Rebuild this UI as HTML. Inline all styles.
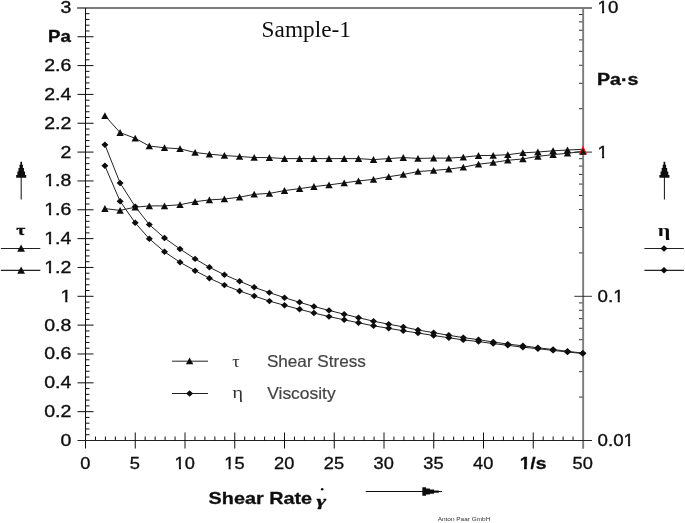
<!DOCTYPE html><html><head><meta charset="utf-8"><title>Sample-1</title>
<style>html,body{margin:0;padding:0;background:#fff}svg{display:block}.a{font-family:"Liberation Sans",Arial,sans-serif;fill:#111}.s{font-family:"Liberation Serif","Times New Roman",serif;fill:#111}</style></head><body>
<svg width="685" height="523" viewBox="0 0 685 523">
<defs><filter id="soft" x="0" y="0" width="685" height="523" filterUnits="userSpaceOnUse"><feGaussianBlur stdDeviation="0.3"/></filter></defs>
<rect width="685" height="523" fill="#fff"/>
<g filter="url(#soft)">
<path d="M77.1 7.95H592.0" stroke="#7c7c7c" stroke-width="1.9" fill="none"/>
<path d="M583.15 7.5V448.7" stroke="#7c7c7c" stroke-width="1.9" fill="none"/>
<path d="M85.5 7.9V448.5" stroke="#111" stroke-width="1" fill="none"/>
<path d="M77.5 440.5H592.0" stroke="#222" stroke-width="1" fill="none"/>
<path d="M85.5 434.73H89.5M85.5 428.96H89.5M85.5 423.20H89.5M85.5 417.43H89.5M77.5 411.66H93.5M85.5 405.89H89.5M85.5 400.12H89.5M85.5 394.36H89.5M85.5 388.59H89.5M77.5 382.82H93.5M85.5 377.05H89.5M85.5 371.28H89.5M85.5 365.52H89.5M85.5 359.75H89.5M77.5 353.98H93.5M85.5 348.21H89.5M85.5 342.44H89.5M85.5 336.68H89.5M85.5 330.91H89.5M77.5 325.14H93.5M85.5 319.37H89.5M85.5 313.60H89.5M85.5 307.84H89.5M85.5 302.07H89.5M77.5 296.30H93.5M85.5 290.53H89.5M85.5 284.76H89.5M85.5 279.00H89.5M85.5 273.23H89.5M77.5 267.46H93.5M85.5 261.69H89.5M85.5 255.92H89.5M85.5 250.16H89.5M85.5 244.39H89.5M77.5 238.62H93.5M85.5 232.85H89.5M85.5 227.08H89.5M85.5 221.32H89.5M85.5 215.55H89.5M77.5 209.78H93.5M85.5 204.01H89.5M85.5 198.24H89.5M85.5 192.48H89.5M85.5 186.71H89.5M77.5 180.94H93.5M85.5 175.17H89.5M85.5 169.40H89.5M85.5 163.64H89.5M85.5 157.87H89.5M77.5 152.10H93.5M85.5 146.33H89.5M85.5 140.56H89.5M85.5 134.80H89.5M85.5 129.03H89.5M77.5 123.26H93.5M85.5 117.49H89.5M85.5 111.72H89.5M85.5 105.96H89.5M85.5 100.19H89.5M77.5 94.42H93.5M85.5 88.65H89.5M85.5 82.88H89.5M85.5 77.12H89.5M85.5 71.35H89.5M77.5 65.58H93.5M85.5 59.81H89.5M85.5 54.04H89.5M85.5 48.28H89.5M85.5 42.51H89.5M77.5 36.74H93.5M85.5 30.97H89.5M85.5 25.20H89.5M85.5 19.44H89.5M85.5 13.67H89.5" stroke="#111" stroke-width="1" fill="none"/>
<path d="M95.45 436.5V440.5M105.40 436.5V440.5M115.35 436.5V440.5M125.30 436.5V440.5M135.25 432.5V448.5M145.20 436.5V440.5M155.15 436.5V440.5M165.10 436.5V440.5M175.05 436.5V440.5M185.00 432.5V448.5M194.95 436.5V440.5M204.90 436.5V440.5M214.85 436.5V440.5M224.80 436.5V440.5M234.75 432.5V448.5M244.70 436.5V440.5M254.65 436.5V440.5M264.60 436.5V440.5M274.55 436.5V440.5M284.50 432.5V448.5M294.45 436.5V440.5M304.40 436.5V440.5M314.35 436.5V440.5M324.30 436.5V440.5M334.25 432.5V448.5M344.20 436.5V440.5M354.15 436.5V440.5M364.10 436.5V440.5M374.05 436.5V440.5M384.00 432.5V448.5M393.95 436.5V440.5M403.90 436.5V440.5M413.85 436.5V440.5M423.80 436.5V440.5M433.75 432.5V448.5M443.70 436.5V440.5M453.65 436.5V440.5M463.60 436.5V440.5M473.55 436.5V440.5M483.50 432.5V448.5M493.45 436.5V440.5M503.40 436.5V440.5M513.35 436.5V440.5M523.30 436.5V440.5M533.25 432.5V448.5M543.20 436.5V440.5M553.15 436.5V440.5M563.10 436.5V440.5M573.05 436.5V440.5" stroke="#111" stroke-width="1" fill="none"/>
<path d="M574.3 152.10H592.0M579.0 108.69H582.5M579.0 83.30H582.5M579.0 65.28H582.5M579.0 51.31H582.5M579.0 39.89H582.5M579.0 30.24H582.5M579.0 21.87H582.5M579.0 14.50H582.5M574.3 296.30H592.0M579.0 252.89H582.5M579.0 227.50H582.5M579.0 209.48H582.5M579.0 195.51H582.5M579.0 184.09H582.5M579.0 174.44H582.5M579.0 166.07H582.5M579.0 158.70H582.5M579.0 397.09H582.5M579.0 371.70H582.5M579.0 353.68H582.5M579.0 339.71H582.5M579.0 328.29H582.5M579.0 318.64H582.5M579.0 310.27H582.5M579.0 302.90H582.5" stroke="#333" stroke-width="1" fill="none"/>
<g transform="translate(71.4 0) scale(1.22 1)"><text class="a" x="-8.90" y="446.0" font-size="16" stroke="#111" stroke-width="0.35">0</text></g>
<g transform="translate(71.4 0) scale(1.22 1)"><text class="a" x="-22.24" y="417.2" font-size="16" stroke="#111" stroke-width="0.35">0.2</text></g>
<g transform="translate(71.4 0) scale(1.22 1)"><text class="a" x="-22.24" y="388.3" font-size="16" stroke="#111" stroke-width="0.35">0.4</text></g>
<g transform="translate(71.4 0) scale(1.22 1)"><text class="a" x="-22.24" y="359.5" font-size="16" stroke="#111" stroke-width="0.35">0.6</text></g>
<g transform="translate(71.4 0) scale(1.22 1)"><text class="a" x="-22.24" y="330.6" font-size="16" stroke="#111" stroke-width="0.35">0.8</text></g>
<g transform="translate(71.4 0) scale(1.22 1)"><text class="a" x="-8.90" y="301.8" font-size="16" stroke="#111" stroke-width="0.35">1</text><rect x="-8.50" y="299.32" width="3.41" height="4.48" fill="#fff"/><rect x="-3.26" y="299.32" width="3.25" height="4.48" fill="#fff"/></g>
<g transform="translate(71.4 0) scale(1.22 1)"><text class="a" x="-22.24" y="273.0" font-size="16" stroke="#111" stroke-width="0.35">1.2</text><rect x="-21.84" y="270.48" width="3.41" height="4.48" fill="#fff"/><rect x="-16.61" y="270.48" width="3.25" height="4.48" fill="#fff"/></g>
<g transform="translate(71.4 0) scale(1.22 1)"><text class="a" x="-22.24" y="244.1" font-size="16" stroke="#111" stroke-width="0.35">1.4</text><rect x="-21.84" y="241.64" width="3.41" height="4.48" fill="#fff"/><rect x="-16.61" y="241.64" width="3.25" height="4.48" fill="#fff"/></g>
<g transform="translate(71.4 0) scale(1.22 1)"><text class="a" x="-22.24" y="215.3" font-size="16" stroke="#111" stroke-width="0.35">1.6</text><rect x="-21.84" y="212.80" width="3.41" height="4.48" fill="#fff"/><rect x="-16.61" y="212.80" width="3.25" height="4.48" fill="#fff"/></g>
<g transform="translate(71.4 0) scale(1.22 1)"><text class="a" x="-22.24" y="186.4" font-size="16" stroke="#111" stroke-width="0.35">1.8</text><rect x="-21.84" y="183.96" width="3.41" height="4.48" fill="#fff"/><rect x="-16.61" y="183.96" width="3.25" height="4.48" fill="#fff"/></g>
<g transform="translate(71.4 0) scale(1.22 1)"><text class="a" x="-8.90" y="157.6" font-size="16" stroke="#111" stroke-width="0.35">2</text></g>
<g transform="translate(71.4 0) scale(1.22 1)"><text class="a" x="-22.24" y="128.8" font-size="16" stroke="#111" stroke-width="0.35">2.2</text></g>
<g transform="translate(71.4 0) scale(1.22 1)"><text class="a" x="-22.24" y="99.9" font-size="16" stroke="#111" stroke-width="0.35">2.4</text></g>
<g transform="translate(71.4 0) scale(1.22 1)"><text class="a" x="-22.24" y="71.1" font-size="16" stroke="#111" stroke-width="0.35">2.6</text></g>
<g transform="translate(70.8 0) scale(1.17 1)"><text class="a" x="-19.57" y="41.7" font-size="16" font-weight="bold" stroke="#111" stroke-width="0.35">Pa</text></g>
<g transform="translate(71.4 0) scale(1.22 1)"><text class="a" x="-8.90" y="13.4" font-size="16" stroke="#111" stroke-width="0.35">3</text></g>
<g transform="translate(85.2 0) scale(1.14 1)"><text class="a" x="-4.45" y="468.6" font-size="16" stroke="#111" stroke-width="0.35">0</text></g>
<g transform="translate(134.9 0) scale(1.14 1)"><text class="a" x="-4.45" y="468.6" font-size="16" stroke="#111" stroke-width="0.35">5</text></g>
<g transform="translate(184.7 0) scale(1.14 1)"><text class="a" x="-8.90" y="468.6" font-size="16" stroke="#111" stroke-width="0.35">10</text><rect x="-8.50" y="466.12" width="3.41" height="4.48" fill="#fff"/><rect x="-3.26" y="466.12" width="3.25" height="4.48" fill="#fff"/></g>
<g transform="translate(234.4 0) scale(1.14 1)"><text class="a" x="-8.90" y="468.6" font-size="16" stroke="#111" stroke-width="0.35">15</text><rect x="-8.50" y="466.12" width="3.41" height="4.48" fill="#fff"/><rect x="-3.26" y="466.12" width="3.25" height="4.48" fill="#fff"/></g>
<g transform="translate(284.2 0) scale(1.14 1)"><text class="a" x="-8.90" y="468.6" font-size="16" stroke="#111" stroke-width="0.35">20</text></g>
<g transform="translate(333.9 0) scale(1.14 1)"><text class="a" x="-8.90" y="468.6" font-size="16" stroke="#111" stroke-width="0.35">25</text></g>
<g transform="translate(383.7 0) scale(1.14 1)"><text class="a" x="-8.90" y="468.6" font-size="16" stroke="#111" stroke-width="0.35">30</text></g>
<g transform="translate(433.4 0) scale(1.14 1)"><text class="a" x="-8.90" y="468.6" font-size="16" stroke="#111" stroke-width="0.35">35</text></g>
<g transform="translate(483.2 0) scale(1.14 1)"><text class="a" x="-8.90" y="468.6" font-size="16" stroke="#111" stroke-width="0.35">40</text></g>
<g transform="translate(533.0 0) scale(1.2 1)"><text class="a" x="-11.12" y="468.6" font-size="16" font-weight="bold" stroke="#111" stroke-width="0.35">1/s</text><rect x="-10.80" y="465.72" width="3.30" height="4.88" fill="#fff"/><rect x="-5.14" y="465.72" width="3.14" height="4.88" fill="#fff"/></g>
<g transform="translate(582.7 0) scale(1.14 1)"><text class="a" x="-8.90" y="468.6" font-size="16" stroke="#111" stroke-width="0.35">50</text></g>
<g transform="translate(597.6 0) scale(1.17 1)"><text class="a" x="0.00" y="13.4" font-size="16" stroke="#111" stroke-width="0.35">10</text><rect x="0.40" y="10.92" width="3.41" height="4.48" fill="#fff"/><rect x="5.63" y="10.92" width="3.25" height="4.48" fill="#fff"/></g>
<g transform="translate(597.6 0) scale(1.17 1)"><text class="a" x="0.00" y="157.6" font-size="16" stroke="#111" stroke-width="0.35">1</text><rect x="0.40" y="155.12" width="3.41" height="4.48" fill="#fff"/><rect x="5.63" y="155.12" width="3.25" height="4.48" fill="#fff"/></g>
<g transform="translate(597.6 0) scale(1.17 1)"><text class="a" x="0.00" y="301.8" font-size="16" stroke="#111" stroke-width="0.35">0.1</text><rect x="13.74" y="299.32" width="3.41" height="4.48" fill="#fff"/><rect x="18.98" y="299.32" width="3.25" height="4.48" fill="#fff"/></g>
<g transform="translate(597.6 0) scale(1.17 1)"><text class="a" x="0.00" y="446.0" font-size="16" stroke="#111" stroke-width="0.35">0.01</text><rect x="22.64" y="443.52" width="3.41" height="4.48" fill="#fff"/><rect x="27.87" y="443.52" width="3.25" height="4.48" fill="#fff"/></g>
<text class="a" x="597" y="84.8" font-size="15.6" stroke="#111" stroke-width="0.35" font-weight="bold" textLength="41.3" lengthAdjust="spacingAndGlyphs">Pa·s</text>
<text class="s" x="261.6" y="36.8" font-size="23" textLength="89.3" lengthAdjust="spacingAndGlyphs">Sample-1</text>
<polyline fill="none" stroke="#222" stroke-width="1" points="104.9,115.7 120.1,132.6 135.2,138.3 149.3,146.0 164.5,147.8 180.0,148.8 195.1,152.5 209.4,154.2 224.4,155.5 239.6,156.5 254.2,157.5 269.4,157.6 284.5,158.6 299.6,158.6 313.9,158.6 329.0,158.6 344.2,158.6 358.5,158.6 373.5,159.6 388.7,158.6 403.3,157.6 418.0,158.4 433.6,158.1 448.8,158.1 463.3,157.2 478.5,155.6 493.2,155.4 507.8,154.7 522.9,152.8 537.9,152.0 553.1,150.8 567.5,150.0 582.8,149.3"/>
<polyline fill="none" stroke="#222" stroke-width="1" points="104.9,208.6 120.1,210.4 135.2,207.2 149.3,205.9 164.5,205.9 180.0,204.7 195.1,201.7 209.4,199.9 224.4,199.0 239.6,197.2 254.2,194.3 269.4,193.4 284.5,190.6 299.6,188.6 313.9,186.6 329.0,184.9 344.2,182.9 358.5,180.9 373.5,179.4 388.7,176.7 403.3,174.5 418.0,171.5 433.6,170.5 448.8,169.1 463.3,167.2 478.5,164.2 493.2,162.5 507.8,160.3 522.9,158.9 537.9,156.4 553.1,154.6 567.5,153.3 582.8,151.4"/>
<polyline fill="none" stroke="#222" stroke-width="1" points="104.9,144.7 120.1,183.0 135.2,206.6 149.3,224.6 164.5,238.0 180.0,249.0 195.1,258.9 209.4,267.3 224.4,274.7 239.6,281.3 254.2,287.3 269.4,292.6 284.5,297.7 299.6,302.3 313.9,306.5 329.0,310.4 344.2,314.2 358.5,317.7 373.5,321.2 388.7,324.2 403.3,326.9 418.0,330.0 433.6,332.7 448.8,335.3 463.3,337.6 478.5,339.7 493.2,342.0 507.8,344.1 522.9,345.8 537.9,347.8 553.1,349.5 567.5,351.3 582.8,353.1"/>
<polyline fill="none" stroke="#222" stroke-width="1" points="104.9,165.8 120.1,201.3 135.2,222.8 149.3,238.8 164.5,251.8 180.0,262.3 195.1,270.7 209.4,278.2 224.4,285.1 239.6,291.0 254.2,296.0 269.4,301.1 284.5,305.3 299.6,309.3 313.9,313.0 329.0,316.6 344.2,319.8 358.5,322.8 373.5,325.8 388.7,328.3 403.3,330.8 418.0,333.0 433.6,335.5 448.8,337.8 463.3,339.9 478.5,341.6 493.2,343.6 507.8,345.3 522.9,347.2 537.9,348.7 553.1,350.4 567.5,352.0 582.8,353.5"/>
<path d="M101.2 211.9L108.6 211.9L104.9 205.1Z" fill="#111"/>
<path d="M116.4 213.7L123.8 213.7L120.1 206.9Z" fill="#111"/>
<path d="M131.5 210.5L138.9 210.5L135.2 203.7Z" fill="#111"/>
<path d="M145.6 209.2L153.0 209.2L149.3 202.4Z" fill="#111"/>
<path d="M160.8 209.2L168.2 209.2L164.5 202.4Z" fill="#111"/>
<path d="M176.3 208.0L183.7 208.0L180.0 201.2Z" fill="#111"/>
<path d="M191.4 205.0L198.8 205.0L195.1 198.2Z" fill="#111"/>
<path d="M205.7 203.2L213.1 203.2L209.4 196.4Z" fill="#111"/>
<path d="M220.7 202.3L228.1 202.3L224.4 195.5Z" fill="#111"/>
<path d="M235.9 200.5L243.3 200.5L239.6 193.7Z" fill="#111"/>
<path d="M250.5 197.6L257.9 197.6L254.2 190.8Z" fill="#111"/>
<path d="M265.7 196.7L273.1 196.7L269.4 189.9Z" fill="#111"/>
<path d="M280.8 193.9L288.2 193.9L284.5 187.1Z" fill="#111"/>
<path d="M295.9 191.9L303.3 191.9L299.6 185.1Z" fill="#111"/>
<path d="M310.2 189.9L317.6 189.9L313.9 183.1Z" fill="#111"/>
<path d="M325.3 188.2L332.7 188.2L329.0 181.4Z" fill="#111"/>
<path d="M340.5 186.2L347.9 186.2L344.2 179.4Z" fill="#111"/>
<path d="M354.8 184.2L362.2 184.2L358.5 177.4Z" fill="#111"/>
<path d="M369.8 182.7L377.2 182.7L373.5 175.9Z" fill="#111"/>
<path d="M385.0 180.0L392.4 180.0L388.7 173.2Z" fill="#111"/>
<path d="M399.6 177.8L407.0 177.8L403.3 171.0Z" fill="#111"/>
<path d="M414.3 174.8L421.7 174.8L418.0 168.0Z" fill="#111"/>
<path d="M429.9 173.8L437.3 173.8L433.6 167.0Z" fill="#111"/>
<path d="M445.1 172.4L452.5 172.4L448.8 165.6Z" fill="#111"/>
<path d="M459.6 170.5L467.0 170.5L463.3 163.7Z" fill="#111"/>
<path d="M474.8 167.5L482.2 167.5L478.5 160.7Z" fill="#111"/>
<path d="M489.5 165.8L496.9 165.8L493.2 159.0Z" fill="#111"/>
<path d="M504.1 163.6L511.5 163.6L507.8 156.8Z" fill="#111"/>
<path d="M519.2 162.2L526.6 162.2L522.9 155.4Z" fill="#111"/>
<path d="M534.2 159.7L541.6 159.7L537.9 152.9Z" fill="#111"/>
<path d="M549.4 157.9L556.8 157.9L553.1 151.1Z" fill="#111"/>
<path d="M563.8 156.6L571.2 156.6L567.5 149.8Z" fill="#111"/>
<path d="M101.2 119.0L108.6 119.0L104.9 112.2Z" fill="#111"/>
<path d="M116.4 135.9L123.8 135.9L120.1 129.1Z" fill="#111"/>
<path d="M131.5 141.6L138.9 141.6L135.2 134.8Z" fill="#111"/>
<path d="M145.6 149.3L153.0 149.3L149.3 142.5Z" fill="#111"/>
<path d="M160.8 151.1L168.2 151.1L164.5 144.3Z" fill="#111"/>
<path d="M176.3 152.1L183.7 152.1L180.0 145.3Z" fill="#111"/>
<path d="M191.4 155.8L198.8 155.8L195.1 149.0Z" fill="#111"/>
<path d="M205.7 157.5L213.1 157.5L209.4 150.7Z" fill="#111"/>
<path d="M220.7 158.8L228.1 158.8L224.4 152.0Z" fill="#111"/>
<path d="M235.9 159.8L243.3 159.8L239.6 153.0Z" fill="#111"/>
<path d="M250.5 160.8L257.9 160.8L254.2 154.0Z" fill="#111"/>
<path d="M265.7 160.9L273.1 160.9L269.4 154.1Z" fill="#111"/>
<path d="M280.8 161.9L288.2 161.9L284.5 155.1Z" fill="#111"/>
<path d="M295.9 161.9L303.3 161.9L299.6 155.1Z" fill="#111"/>
<path d="M310.2 161.9L317.6 161.9L313.9 155.1Z" fill="#111"/>
<path d="M325.3 161.9L332.7 161.9L329.0 155.1Z" fill="#111"/>
<path d="M340.5 161.9L347.9 161.9L344.2 155.1Z" fill="#111"/>
<path d="M354.8 161.9L362.2 161.9L358.5 155.1Z" fill="#111"/>
<path d="M369.8 162.9L377.2 162.9L373.5 156.1Z" fill="#111"/>
<path d="M385.0 161.9L392.4 161.9L388.7 155.1Z" fill="#111"/>
<path d="M399.6 160.9L407.0 160.9L403.3 154.1Z" fill="#111"/>
<path d="M414.3 161.7L421.7 161.7L418.0 154.9Z" fill="#111"/>
<path d="M429.9 161.4L437.3 161.4L433.6 154.6Z" fill="#111"/>
<path d="M445.1 161.4L452.5 161.4L448.8 154.6Z" fill="#111"/>
<path d="M459.6 160.5L467.0 160.5L463.3 153.7Z" fill="#111"/>
<path d="M474.8 158.9L482.2 158.9L478.5 152.1Z" fill="#111"/>
<path d="M489.5 158.7L496.9 158.7L493.2 151.9Z" fill="#111"/>
<path d="M504.1 158.0L511.5 158.0L507.8 151.2Z" fill="#111"/>
<path d="M519.2 156.1L526.6 156.1L522.9 149.3Z" fill="#111"/>
<path d="M534.2 155.3L541.6 155.3L537.9 148.5Z" fill="#111"/>
<path d="M549.4 154.1L556.8 154.1L553.1 147.3Z" fill="#111"/>
<path d="M563.8 153.3L571.2 153.3L567.5 146.5Z" fill="#111"/>
<path d="M578.8 154.6L587.2 154.6L583.0 145.6Z" fill="#ee1111"/>
<path d="M579.7 154.8L586.3 154.8L583.0 148.4Z" fill="#151515"/>
<path d="M101.4 144.7L104.9 141.5L108.4 144.7L104.9 147.9Z" fill="#111"/>
<path d="M116.6 183.0L120.1 179.8L123.6 183.0L120.1 186.2Z" fill="#111"/>
<path d="M131.7 206.6L135.2 203.4L138.7 206.6L135.2 209.8Z" fill="#111"/>
<path d="M145.8 224.6L149.3 221.4L152.8 224.6L149.3 227.8Z" fill="#111"/>
<path d="M161.0 238.0L164.5 234.8L168.0 238.0L164.5 241.2Z" fill="#111"/>
<path d="M176.5 249.0L180.0 245.8L183.5 249.0L180.0 252.2Z" fill="#111"/>
<path d="M191.6 258.9L195.1 255.7L198.6 258.9L195.1 262.1Z" fill="#111"/>
<path d="M205.9 267.3L209.4 264.1L212.9 267.3L209.4 270.5Z" fill="#111"/>
<path d="M220.9 274.7L224.4 271.5L227.9 274.7L224.4 277.9Z" fill="#111"/>
<path d="M236.1 281.3L239.6 278.1L243.1 281.3L239.6 284.5Z" fill="#111"/>
<path d="M250.7 287.3L254.2 284.1L257.7 287.3L254.2 290.5Z" fill="#111"/>
<path d="M265.9 292.6L269.4 289.4L272.9 292.6L269.4 295.8Z" fill="#111"/>
<path d="M281.0 297.7L284.5 294.5L288.0 297.7L284.5 300.9Z" fill="#111"/>
<path d="M296.1 302.3L299.6 299.1L303.1 302.3L299.6 305.5Z" fill="#111"/>
<path d="M310.4 306.5L313.9 303.3L317.4 306.5L313.9 309.7Z" fill="#111"/>
<path d="M325.5 310.4L329.0 307.2L332.5 310.4L329.0 313.6Z" fill="#111"/>
<path d="M340.7 314.2L344.2 311.0L347.7 314.2L344.2 317.4Z" fill="#111"/>
<path d="M355.0 317.7L358.5 314.5L362.0 317.7L358.5 320.9Z" fill="#111"/>
<path d="M370.0 321.2L373.5 318.0L377.0 321.2L373.5 324.4Z" fill="#111"/>
<path d="M385.2 324.2L388.7 321.0L392.2 324.2L388.7 327.4Z" fill="#111"/>
<path d="M399.8 326.9L403.3 323.7L406.8 326.9L403.3 330.1Z" fill="#111"/>
<path d="M414.5 330.0L418.0 326.8L421.5 330.0L418.0 333.2Z" fill="#111"/>
<path d="M430.1 332.7L433.6 329.5L437.1 332.7L433.6 335.9Z" fill="#111"/>
<path d="M445.3 335.3L448.8 332.1L452.3 335.3L448.8 338.5Z" fill="#111"/>
<path d="M459.8 337.6L463.3 334.4L466.8 337.6L463.3 340.8Z" fill="#111"/>
<path d="M475.0 339.7L478.5 336.5L482.0 339.7L478.5 342.9Z" fill="#111"/>
<path d="M489.7 342.0L493.2 338.8L496.7 342.0L493.2 345.2Z" fill="#111"/>
<path d="M504.3 344.1L507.8 340.9L511.3 344.1L507.8 347.3Z" fill="#111"/>
<path d="M519.4 345.8L522.9 342.6L526.4 345.8L522.9 349.0Z" fill="#111"/>
<path d="M534.4 347.8L537.9 344.6L541.4 347.8L537.9 351.0Z" fill="#111"/>
<path d="M549.6 349.5L553.1 346.3L556.6 349.5L553.1 352.7Z" fill="#111"/>
<path d="M564.0 351.3L567.5 348.1L571.0 351.3L567.5 354.5Z" fill="#111"/>
<path d="M579.3 353.1L582.8 349.9L586.3 353.1L582.8 356.3Z" fill="#111"/>
<path d="M101.4 165.8L104.9 162.6L108.4 165.8L104.9 169.0Z" fill="#111"/>
<path d="M116.6 201.3L120.1 198.1L123.6 201.3L120.1 204.5Z" fill="#111"/>
<path d="M131.7 222.8L135.2 219.6L138.7 222.8L135.2 226.0Z" fill="#111"/>
<path d="M145.8 238.8L149.3 235.6L152.8 238.8L149.3 242.0Z" fill="#111"/>
<path d="M161.0 251.8L164.5 248.6L168.0 251.8L164.5 255.0Z" fill="#111"/>
<path d="M176.5 262.3L180.0 259.1L183.5 262.3L180.0 265.5Z" fill="#111"/>
<path d="M191.6 270.7L195.1 267.5L198.6 270.7L195.1 273.9Z" fill="#111"/>
<path d="M205.9 278.2L209.4 275.0L212.9 278.2L209.4 281.4Z" fill="#111"/>
<path d="M220.9 285.1L224.4 281.9L227.9 285.1L224.4 288.3Z" fill="#111"/>
<path d="M236.1 291.0L239.6 287.8L243.1 291.0L239.6 294.2Z" fill="#111"/>
<path d="M250.7 296.0L254.2 292.8L257.7 296.0L254.2 299.2Z" fill="#111"/>
<path d="M265.9 301.1L269.4 297.9L272.9 301.1L269.4 304.3Z" fill="#111"/>
<path d="M281.0 305.3L284.5 302.1L288.0 305.3L284.5 308.5Z" fill="#111"/>
<path d="M296.1 309.3L299.6 306.1L303.1 309.3L299.6 312.5Z" fill="#111"/>
<path d="M310.4 313.0L313.9 309.8L317.4 313.0L313.9 316.2Z" fill="#111"/>
<path d="M325.5 316.6L329.0 313.4L332.5 316.6L329.0 319.8Z" fill="#111"/>
<path d="M340.7 319.8L344.2 316.6L347.7 319.8L344.2 323.0Z" fill="#111"/>
<path d="M355.0 322.8L358.5 319.6L362.0 322.8L358.5 326.0Z" fill="#111"/>
<path d="M370.0 325.8L373.5 322.6L377.0 325.8L373.5 329.0Z" fill="#111"/>
<path d="M385.2 328.3L388.7 325.1L392.2 328.3L388.7 331.5Z" fill="#111"/>
<path d="M399.8 330.8L403.3 327.6L406.8 330.8L403.3 334.0Z" fill="#111"/>
<path d="M414.5 333.0L418.0 329.8L421.5 333.0L418.0 336.2Z" fill="#111"/>
<path d="M430.1 335.5L433.6 332.3L437.1 335.5L433.6 338.7Z" fill="#111"/>
<path d="M445.3 337.8L448.8 334.6L452.3 337.8L448.8 341.0Z" fill="#111"/>
<path d="M459.8 339.9L463.3 336.7L466.8 339.9L463.3 343.1Z" fill="#111"/>
<path d="M475.0 341.6L478.5 338.4L482.0 341.6L478.5 344.8Z" fill="#111"/>
<path d="M489.7 343.6L493.2 340.4L496.7 343.6L493.2 346.8Z" fill="#111"/>
<path d="M504.3 345.3L507.8 342.1L511.3 345.3L507.8 348.5Z" fill="#111"/>
<path d="M519.4 347.2L522.9 344.0L526.4 347.2L522.9 350.4Z" fill="#111"/>
<path d="M534.4 348.7L537.9 345.5L541.4 348.7L537.9 351.9Z" fill="#111"/>
<path d="M549.6 350.4L553.1 347.2L556.6 350.4L553.1 353.6Z" fill="#111"/>
<path d="M564.0 352.0L567.5 348.8L571.0 352.0L567.5 355.2Z" fill="#111"/>
<path d="M579.3 353.5L582.8 350.3L586.3 353.5L582.8 356.7Z" fill="#111"/>
<path d="M172 361.2H208M172 393.5H208" stroke="#222" stroke-width="1"/>
<path d="M185.9 364.3L193.3 364.3L189.6 357.5Z" fill="#111"/>
<path d="M186.1 393.5L189.6 390.3L193.1 393.5L189.6 396.7Z" fill="#111"/>
<text class="s" x="0" y="367.2" font-size="16" style="fill:#333" transform="translate(232.2 0) scale(1.15 1)">τ</text>
<text class="s" x="0" y="398.2" font-size="16" style="fill:#333" transform="translate(232.3 0) scale(1.3 1)">η</text>
<text class="a" x="266.9" y="366.9" font-size="16.5" style="fill:#444" stroke="#444" stroke-width="0.2" textLength="99" lengthAdjust="spacingAndGlyphs">Shear Stress</text>
<text class="a" x="267.2" y="398.6" font-size="16.5" style="fill:#444" stroke="#444" stroke-width="0.2" textLength="68.5" lengthAdjust="spacingAndGlyphs">Viscosity</text>
<path d="M21.2 199.5V176" stroke="#111" stroke-width="1"/><path d="M20.35 161.8H20.35V164.75H19.50V167.9H18.45V171.6H17.35V175.1H16.20V177.7H26.20H26.20V175.1H25.05V171.6H23.95V167.9H22.90V164.75H22.05V161.8Z" fill="#111"/>
<text class="s" x="0" y="235.1" font-size="14.8" font-weight="bold" stroke="#111" stroke-width="0.3" transform="translate(16.3 0) scale(1.33 1)">τ</text>
<path d="M0.9 248.45H40.3M0.9 270.35H40.3" stroke="#222" stroke-width="1.1"/>
<path d="M17.2 251.8L25.0 251.8L21.1 244.6Z" fill="#111"/>
<path d="M17.2 273.8L25.0 273.8L21.1 266.6Z" fill="#111"/>
<path d="M664.4 199.5V176" stroke="#111" stroke-width="1"/><path d="M663.55 161.8H663.55V164.75H662.70V167.9H661.65V171.6H660.55V175.1H659.40V177.7H669.40H669.40V175.1H668.25V171.6H667.15V167.9H666.10V164.75H665.25V161.8Z" fill="#111"/>
<text class="s" x="0" y="235.8" font-size="17" font-weight="bold" transform="translate(657.8 0) scale(1.3 1)">η</text>
<path d="M644.4 248.5H683.8M644.4 270.35H683.8" stroke="#222" stroke-width="1.1"/>
<path d="M660.5 248.5L664.0 245.3L667.5 248.5L664.0 251.7Z" fill="#111"/>
<path d="M660.5 270.3L664.0 267.1L667.5 270.3L664.0 273.5Z" fill="#111"/>
<text class="a" x="208.6" y="504" font-size="16.6" font-weight="bold" stroke="#111" stroke-width="0.3" textLength="103.5" lengthAdjust="spacingAndGlyphs">Shear Rate</text>
<text class="s" x="0" y="505.7" font-size="15.5" font-weight="bold" font-style="italic" stroke="#111" stroke-width="0.3" transform="translate(316.6 0) scale(1.5 1)">γ</text>
<circle cx="322.2" cy="489.3" r="1.25" fill="#111"/>
<path d="M365.7 491.5H442" stroke="#111" stroke-width="1"/><path d="M422.3 487.3H426.1V488.5H429.9V489.4H434V490.4H438.9V492.7H434V493.7H429.9V494.6H426.1V495.8H422.3Z" fill="#111"/>
<text class="a" x="437.7" y="521.4" font-size="5.5" style="fill:#333" textLength="52.6" lengthAdjust="spacingAndGlyphs">Anton Paar GmbH</text>
</g></svg></body></html>
